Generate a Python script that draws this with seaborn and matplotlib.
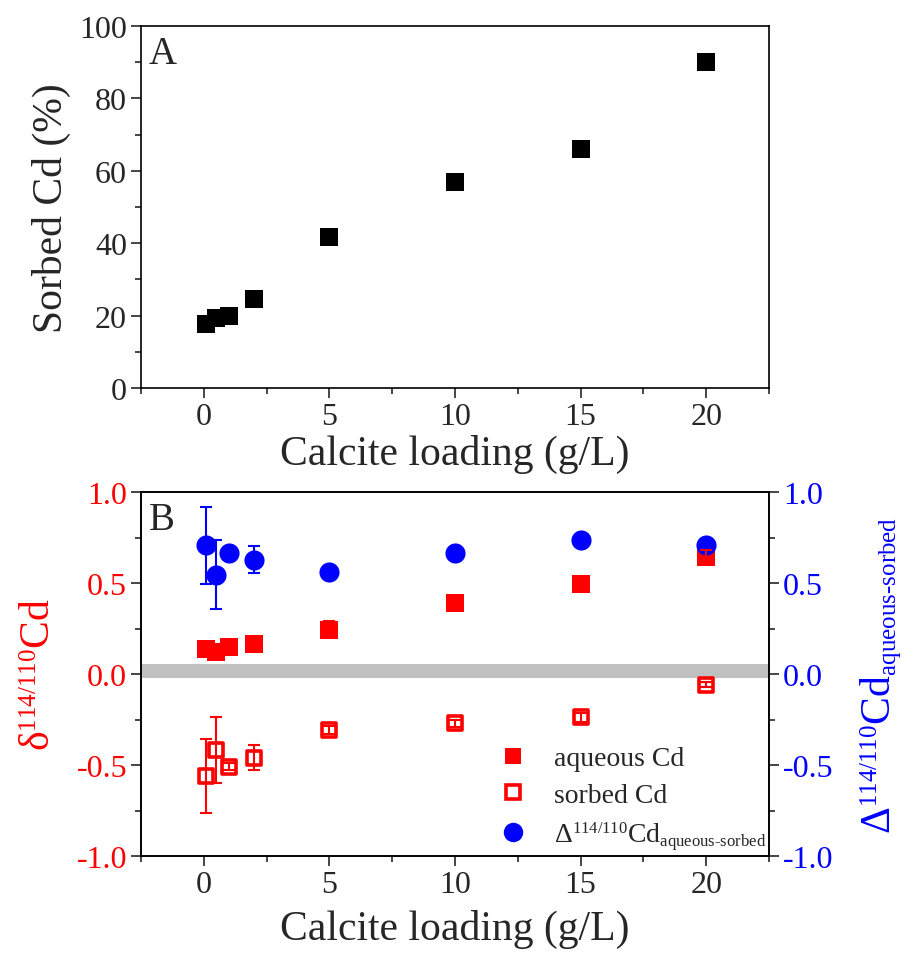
import numpy as np
import pandas as pd
import matplotlib
matplotlib.use("Agg")
import matplotlib.pyplot as plt
import matplotlib._mathtext as _mt
from matplotlib.lines import Line2D
import seaborn as sns

# smaller super/subscripts, like the reference typesetting
_mt.SHRINK_FACTOR = 0.6

# ---------------- data ----------------
loading = [0.1, 0.5, 1, 2, 5, 10, 15, 20]
sorbed_pct = [17.7, 19.2, 19.9, 24.6, 41.7, 56.9, 66.0, 90.0]

aqueous_d = [0.138, 0.120, 0.149, 0.165, 0.244, 0.391, 0.497, 0.643]
aqueous_err = [0.03, 0.03, 0.03, 0.03, 0.045, 0.03, 0.03, 0.04]
sorbed_d = [-0.560, -0.417, -0.509, -0.459, -0.307, -0.270, -0.237, -0.059]
sorbed_err = [0.205, 0.180, 0.02, 0.068, 0.02, 0.02, 0.025, 0.015]
delta_as = [0.707, 0.545, 0.667, 0.628, 0.560, 0.667, 0.734, 0.707]
delta_err = [0.21, 0.19, 0.02, 0.075, 0.02, 0.02, 0.035, 0.02]

band_lo, band_hi = -0.022, 0.053

x_ticks = [0, 5, 10, 15, 20]
yA_ticks = [0, 20, 40, 60, 80, 100]
yB_ticks = [-1.0, -0.5, 0.0, 0.5, 1.0]

dfA = pd.DataFrame({"loading": loading, "sorbed": sorbed_pct})
dfB = pd.DataFrame({"loading": loading, "aq": aqueous_d, "aq_err": aqueous_err,
                    "so": sorbed_d, "so_err": sorbed_err,
                    "dl": delta_as, "dl_err": delta_err})

# ---------------- style ----------------
sns.set_style("ticks")
plt.rcParams["font.family"] = ["Liberation Serif", "DejaVu Serif"]
plt.rcParams["mathtext.fontset"] = "custom"
plt.rcParams["mathtext.rm"] = "Liberation Serif"
plt.rcParams["mathtext.it"] = "Liberation Serif:italic"
plt.rcParams["mathtext.bf"] = "Liberation Serif:bold"
plt.rcParams["axes.unicode_minus"] = False

RED = "#FF0000"
BLUE = "#0000FF"
TICK_FS = 23
LABEL_FS = 30

fig = plt.figure(figsize=(9.05, 9.54), dpi=100)
axA = fig.add_axes([141/905, 1-389/954, (769-141)/905, (389-27)/954])
axB = fig.add_axes([141/905, 1-857/954, (769-141)/905, (857-493)/954])


def style_axis(ax):
    for s in ax.spines.values():
        s.set_linewidth(1.2)
        s.set_color("black")
    ax.tick_params(which="major", direction="out", length=7, width=1.2,
                   labelsize=TICK_FS, pad=3)
    ax.tick_params(which="minor", direction="out", length=4, width=1.2)


# ---------------- panel A ----------------
sns.scatterplot(data=dfA, x="loading", y="sorbed", ax=axA, marker="s",
                color="black", s=150, linewidth=0, zorder=3, legend=False)
axA.set_xlim(-2.5, 22.5)
axA.set_ylim(0, 100)
axA.set_xticks(x_ticks)
axA.set_xticks(np.arange(-2.5, 22.51, 2.5), minor=True)
axA.set_yticks(yA_ticks)
axA.set_yticks(np.arange(0, 101, 10), minor=True)
style_axis(axA)
axA.set_xlabel("Calcite loading (g/L)", fontsize=LABEL_FS, labelpad=2)
axA.set_ylabel("Sorbed Cd (%)", fontsize=LABEL_FS, labelpad=6)
axA.text(0.012, 0.975, "A", transform=axA.transAxes, fontsize=28,
         ha="left", va="top")

# ---------------- panel B ----------------
axB.axhspan(band_lo, band_hi, color="#C0C0C0", lw=0, zorder=1)
sns.scatterplot(data=dfB, x="loading", y="aq", ax=axB, marker="s",
                color=RED, s=150, linewidth=0, zorder=3, legend=False)
sns.scatterplot(data=dfB, x="loading", y="so", ax=axB, marker="s",
                facecolor="white", edgecolor=RED, s=95, linewidth=2.6,
                zorder=3, legend=False)
sns.scatterplot(data=dfB, x="loading", y="dl", ax=axB, marker="o",
                color=BLUE, s=210, linewidth=0, zorder=4, legend=False)
axB.errorbar(dfB["loading"], dfB["so"], yerr=dfB["so_err"], fmt="none",
             ecolor=RED, elinewidth=1.5, capsize=4.5, capthick=1.5, zorder=4)
axB.errorbar(dfB["loading"], dfB["dl"], yerr=dfB["dl_err"], fmt="none",
             ecolor=BLUE, elinewidth=1.5, capsize=4.5, capthick=1.5, zorder=4)
axB.errorbar(dfB["loading"], dfB["aq"], yerr=dfB["aq_err"], fmt="none",
             ecolor=RED, elinewidth=1.5, capsize=4.5, capthick=1.5, zorder=5)

axB.set_xlim(-2.5, 22.5)
axB.set_ylim(-1.0, 1.0)
axB.set_xticks(x_ticks)
axB.set_xticks(np.arange(-2.5, 22.51, 2.5), minor=True)
axB.set_yticks(yB_ticks)
axB.set_yticklabels([f"{v:.1f}" for v in yB_ticks])
axB.set_yticks(np.arange(-1.0, 1.01, 0.25), minor=True)
style_axis(axB)
axB.tick_params(axis="y", labelcolor=RED)
axB.set_xlabel("Calcite loading (g/L)", fontsize=LABEL_FS, labelpad=7)
axB.set_ylabel("δ$^{114/110}$Cd", fontsize=LABEL_FS, color=RED, labelpad=13)
axB.text(0.012, 0.975, "B", transform=axB.transAxes, fontsize=28,
         ha="left", va="top")

axR = axB.twinx()
axR.set_ylim(-1.0, 1.0)
axR.set_yticks(yB_ticks)
axR.set_yticklabels([f"{v:.1f}" for v in yB_ticks])
axR.set_yticks(np.arange(-1.0, 1.01, 0.25), minor=True)
style_axis(axR)
axR.tick_params(axis="y", labelcolor=BLUE)
axR.set_ylabel(r"Δ$^{114/110}$Cd$_{\text{aqueous-sorbed}}$",
               fontsize=LABEL_FS, color=BLUE, labelpad=18)

handles = [
    Line2D([], [], ls="none", marker="s", ms=12, color=RED, mew=0),
    Line2D([], [], ls="none", marker="s", ms=9.5, mfc="white", mec=RED, mew=2.6),
    Line2D([], [], ls="none", marker="o", ms=14, color=BLUE, mew=0),
]
labels = ["aqueous Cd", "sorbed Cd", r"Δ$^{114/110}$Cd$_{\text{aqueous-sorbed}}$"]
axB.legend(handles, labels, loc="lower right", bbox_to_anchor=(0.995, 0.012),
           frameon=False, fontsize=20, handletextpad=0.95, labelspacing=0.4,
           borderaxespad=0.0, borderpad=0.0, handlelength=1.0)

fig.savefig("out.png", dpi=100)
